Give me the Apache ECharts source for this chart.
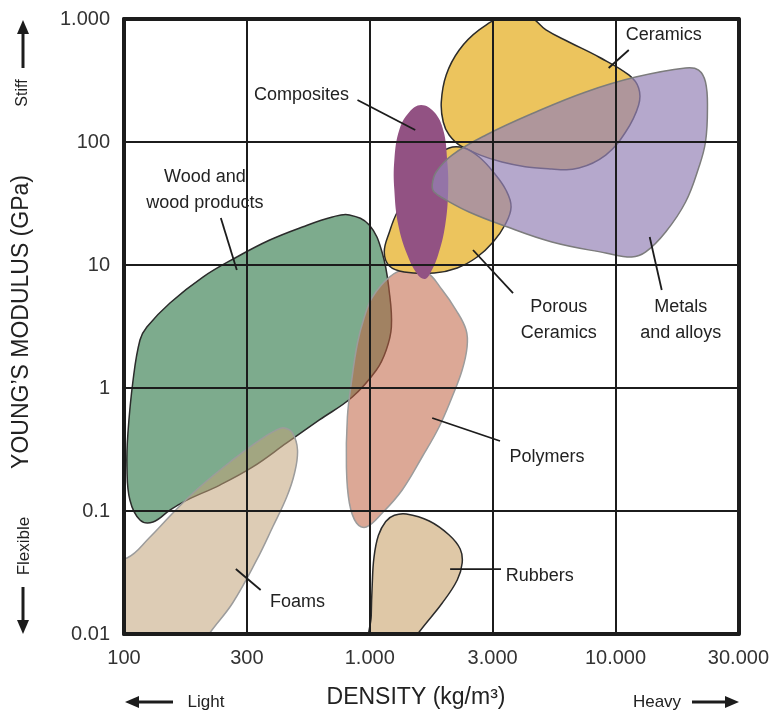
<!DOCTYPE html>
<html>
<head>
<meta charset="utf-8">
<script src="https://cdn.jsdelivr.net/npm/echarts@6/dist/echarts.min.js"></script>
<style>
  html, body { margin: 0; padding: 0; background: #fff; }
  #chart { width: 772px; height: 717px; }
</style>
</head>
<body>
<div id="chart"></div>
<script>
// tick labels (axes run in log10 units, 100..30.000 kg/m3 and 0.01..1.000 GPa)
const xTickLabels = ['100', '300', '1.000', '3.000', '10.000', '30.000']
const yTickLabels = ['0.01', '0.1', '1', '10', '100', '1.000']

// outlines of the material families, [log10 density, log10 modulus]
const woodPts = [[2.917,1.407],[2.998,1.325],[3.051,1.098],[3.080,0.772],[3.088,0.496],[3.067,0.309],[3.027,0.146],
  [2.929,-0.073],[2.795,-0.260],[2.662,-0.447],[2.524,-0.642],[2.390,-0.789],[2.256,-0.911],[2.187,-0.992],
  [2.118,-1.089],[2.065,-1.073],[2.024,-0.911],[2.012,-0.642],[2.016,-0.366],[2.037,0.065],[2.065,0.390],
  [2.093,0.496],[2.187,0.691],[2.321,0.902],[2.459,1.065],[2.593,1.203],[2.726,1.309],[2.848,1.390]]
const foamPts = [[2.653,-0.325],[2.686,-0.366],[2.706,-0.504],[2.694,-0.691],[2.662,-0.886],[2.605,-1.130],
  [2.540,-1.398],[2.442,-1.748],[2.349,-1.992],[2.308,-2.13],[1.94,-2.13],[1.94,-1.36],[2.012,-1.382],
  [2.106,-1.211],[2.199,-1.016],[2.308,-0.805],[2.442,-0.585],[2.552,-0.423],[2.621,-0.341]]
const polymerPts = [[3.080,0.902],[3.149,0.967],[3.230,0.943],[3.295,0.797],[3.351,0.634],[3.392,0.472],
  [3.396,0.333],[3.376,0.146],[3.335,-0.073],[3.282,-0.317],[3.213,-0.561],[3.132,-0.829],[3.051,-1.016],
  [2.986,-1.130],[2.946,-1.098],[2.917,-0.935],[2.905,-0.642],[2.909,-0.236],[2.925,0.041],[2.950,0.366],
  [2.978,0.577],[3.011,0.740]]
const rubberPts = [[3.149,-1.024],[3.242,-1.081],[3.323,-1.195],[3.368,-1.309],[3.376,-1.423],[3.356,-1.561],
  [3.295,-1.748],[3.201,-1.984],[3.169,-2.09],[3.006,-2.09],[3.006,-1.85],[3.010,-1.600],[3.017,-1.380],
  [3.035,-1.200],[3.065,-1.085],[3.100,-1.035]]
const ceramicPts = [[3.546,3.02],[3.445,2.911],[3.364,2.748],[3.311,2.545],[3.291,2.325],[3.299,2.163],
  [3.323,2.057],[3.372,1.967],[3.538,1.837],[3.741,1.780],[3.851,1.789],[3.960,1.894],[4.041,2.081],
  [4.094,2.301],[4.094,2.439],[4.054,2.545],[3.932,2.691],[3.810,2.813],[3.717,2.911],[3.648,3.02]]
const porousPts = [[3.323,1.951],[3.384,1.951],[3.445,1.878],[3.506,1.748],[3.554,1.610],[3.575,1.472],
  [3.550,1.325],[3.502,1.187],[3.437,1.065],[3.356,0.976],[3.262,0.935],[3.140,0.943],[3.080,0.992],
  [3.059,1.106],[3.080,1.268],[3.112,1.431],[3.181,1.650],[3.250,1.854]]
const compositePts = [[3.209,2.301],[3.262,2.244],[3.299,2.098],[3.315,1.854],[3.319,1.610],[3.307,1.325],
  [3.278,1.081],[3.242,0.919],[3.222,0.886],[3.193,0.927],[3.153,1.081],[3.116,1.325],[3.100,1.610],
  [3.100,1.854],[3.120,2.098],[3.161,2.244]]
const metalPts = [[3.254,1.650],[3.270,1.756],[3.335,1.894],[3.473,2.057],[3.676,2.244],[3.879,2.407],
  [4.082,2.528],[4.285,2.602],[4.338,2.585],[4.366,2.488],[4.374,2.276],[4.366,2.0],[4.338,1.789],
  [4.285,1.512],[4.204,1.268],[4.123,1.106],[4.066,1.065],[3.960,1.098],[3.741,1.187],[3.538,1.325],
  [3.404,1.431],[3.311,1.528],[3.262,1.593]]

// labels: text, text position, leader line start, leader line end
const labelTexts = ['Ceramics', 'Composites', 'Wood and\nwood products', 'Porous\nCeramics', 'Metals\nand alloys', 'Polymers', 'Rubbers', 'Foams']
const labelPos = [[4.196,2.870],[2.722,2.382],[2.329,1.610],[3.769,0.553],[4.265,0.553],[3.721,-0.561],[3.692,-1.528],[2.706,-1.740]]
const leaderFrom = [[4.054,2.748],[2.950,2.341],[2.394,1.382],[3.583,0.772],[4.188,0.797],[3.530,-0.431],[3.534,-1.472],[2.556,-1.642]]
const leaderTo = [[3.972,2.602],[3.185,2.098],[2.459,0.959],[3.420,1.122],[4.139,1.228],[3.254,-0.244],[3.327,-1.472],[2.455,-1.472]]

// drawing order = stacking order
const blobs = [
  { pts: woodPts, fill: '#7dab8d', stroke: '#2b2b2b', lw: 1.5 },
  { pts: foamPts, fill: 'rgba(193,162,120,0.55)', stroke: '#9c9c9c', lw: 1.5 },
  { pts: polymerPts, fill: 'rgba(191,97,64,0.55)', stroke: '#9c9c9c', lw: 1.5 },
  { pts: rubberPts, fill: '#dfc8a7', stroke: '#2b2b2b', lw: 1.5 },
  { pts: ceramicPts, fill: '#ecc45d', stroke: '#2b2b2b', lw: 1.5 },
  { pts: porousPts, fill: '#ecc45d', stroke: '#2b2b2b', lw: 1.5 },
  { pts: compositePts, fill: '#925283', stroke: null, lw: 0 },
  { pts: metalPts, fill: 'rgba(149,131,182,0.7)', stroke: '#7c7c7c', lw: 1.5 }
]

const font = "'Liberation Sans', Arial, sans-serif"
const lineCol = '#1c1c1c'

function arrow(x1, y1, x2, y2) {
  // shaft + head, pointing to (x2, y2)
  const dx = x2 - x1, dy = y2 - y1
  const len = Math.sqrt(dx * dx + dy * dy)
  const ux = dx / len, uy = dy / len
  const hl = 14, hw = 6
  const bx = x2 - ux * hl, by = y2 - uy * hl
  return [
    { type: 'line', shape: { x1: x1, y1: y1, x2: bx, y2: by }, style: { stroke: lineCol, lineWidth: 3 } },
    { type: 'polygon', shape: { points: [[x2, y2], [bx - uy * hw, by + ux * hw], [bx + uy * hw, by - ux * hw]] }, style: { fill: lineCol } }
  ]
}

const chart = echarts.init(document.getElementById('chart'))

const frameLine = { show: true, onZero: false, lineStyle: { color: lineCol, width: 4 } }

const option = {
  animation: false,
  grid: { left: 124, right: 32, top: 19, bottom: 83 },
  xAxis: [
    {
      type: 'value', min: 2, max: 4.5, interval: 0.5, z: 5,
      axisLine: frameLine,
      axisTick: { show: false },
      axisLabel: { margin: 14, fontSize: 20, color: '#333', fontFamily: font,
        formatter: v => xTickLabels[Math.round((v - 2) / 0.5)] },
      splitLine: { show: true, lineStyle: { color: lineCol, width: 2 } }
    },
    {
      type: 'value', min: 2, max: 4.5, position: 'top', z: 5,
      axisLine: frameLine,
      axisTick: { show: false }, axisLabel: { show: false }, splitLine: { show: false }
    }
  ],
  yAxis: [
    {
      type: 'value', min: -2, max: 3, interval: 1, z: 5,
      axisLine: frameLine,
      axisTick: { show: false },
      axisLabel: { margin: 14, fontSize: 20, color: '#333', fontFamily: font,
        formatter: v => yTickLabels[Math.round(v + 2)] },
      splitLine: { show: true, lineStyle: { color: lineCol, width: 2 } }
    },
    {
      type: 'value', min: -2, max: 3, position: 'right', z: 5,
      axisLine: frameLine,
      axisTick: { show: false }, axisLabel: { show: false }, splitLine: { show: false }
    }
  ],
  graphic: [
    { type: 'text', x: 416, y: 698, style: { text: 'DENSITY (kg/m³)', font: '23px ' + font, fill: '#222', textAlign: 'center', textVerticalAlign: 'middle' } },
    { type: 'text', x: 22, y: 322, rotation: Math.PI / 2, style: { text: 'YOUNG\u2019S MODULUS (GPa)', font: '23px ' + font, fill: '#222', textAlign: 'center', textVerticalAlign: 'middle' } },
    { type: 'text', x: 23, y: 93, rotation: Math.PI / 2, style: { text: 'Stiff', font: '16px ' + font, fill: '#222', textAlign: 'center', textVerticalAlign: 'middle' } },
    { type: 'text', x: 24, y: 546, rotation: Math.PI / 2, style: { text: 'Flexible', font: '17px ' + font, fill: '#222', textAlign: 'center', textVerticalAlign: 'middle' } },
    { type: 'text', x: 206, y: 702, style: { text: 'Light', font: '17px ' + font, fill: '#222', textAlign: 'center', textVerticalAlign: 'middle' } },
    { type: 'text', x: 657, y: 702, style: { text: 'Heavy', font: '17px ' + font, fill: '#222', textAlign: 'center', textVerticalAlign: 'middle' } }
  ].concat(arrow(23, 68, 23, 20), arrow(23, 587, 23, 634), arrow(173, 702, 125, 702), arrow(692, 702, 739, 702)),
  series: [
    {
      type: 'custom',
      name: 'materials',
      clip: true,
      z: 2,
      data: blobs.map((b, i) => [b.pts[0][0], b.pts[0][1], i]),
      renderItem: function (params, api) {
        const b = blobs[params.dataIndex]
        const pts = b.pts.map(p => api.coord(p))
        return {
          type: 'polygon',
          shape: { points: pts, smooth: 0.4 },
          style: { fill: b.fill, stroke: b.stroke, lineWidth: b.lw }
        }
      }
    },
    {
      type: 'custom',
      name: 'labels',
      z: 8,
      data: labelPos.map((p, i) => [p[0], p[1], i]),
      renderItem: function (params, api) {
        const i = params.dataIndex
        const t = api.coord(labelPos[i])
        const a = api.coord(leaderFrom[i])
        const b = api.coord(leaderTo[i])
        return {
          type: 'group',
          children: [
            { type: 'line', shape: { x1: a[0], y1: a[1], x2: b[0], y2: b[1] }, style: { stroke: '#1c1c1c', lineWidth: 1.8 } },
            { type: 'text', x: t[0], y: t[1], style: { text: labelTexts[i], font: '18px ' + font, fill: '#222', textAlign: 'center', textVerticalAlign: 'middle', lineHeight: 26 } }
          ]
        }
      }
    }
  ]
}

chart.setOption(option)
window.onresize = function () {
  chart.resize()
}
</script>
</body>
</html>
